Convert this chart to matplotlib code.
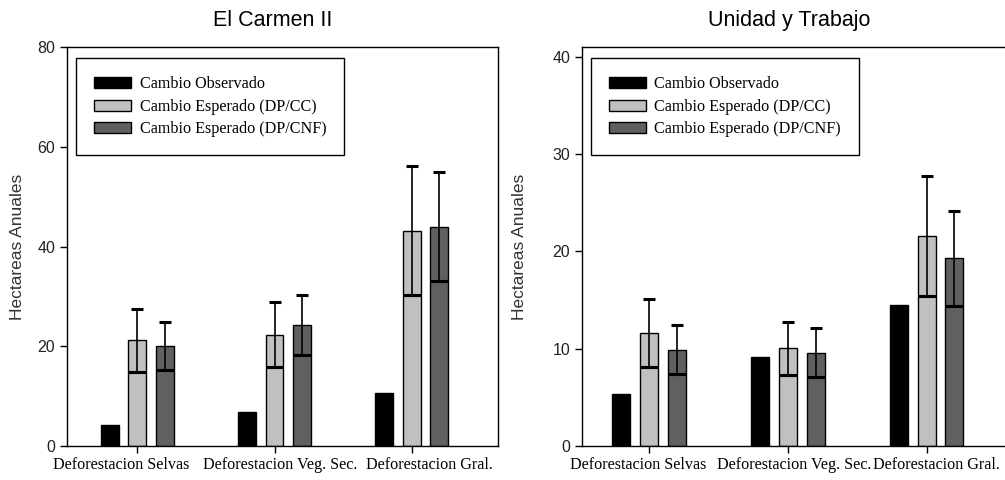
import matplotlib
matplotlib.use("Agg")
import matplotlib.pyplot as plt
import matplotlib.transforms as mtransforms
import numpy as np
from matplotlib.patches import Patch

categories = ["Deforestacion Selvas", "Deforestacion Veg. Sec.", "Deforestacion Gral."]
series_names = ["Cambio Observado", "Cambio Esperado (DP/CC)", "Cambio Esperado (DP/CNF)"]

# El Carmen II
carmen_obs = [4.3, 6.9, 10.7]
carmen_cc = [21.2, 22.3, 43.2]
carmen_cc_err = [6.3, 6.5, 13.0]
carmen_cnf = [20.1, 24.3, 44.0]
carmen_cnf_err = [4.8, 6.0, 11.0]

# Unidad y Trabajo
unidad_obs = [5.35, 9.2, 14.5]
unidad_cc = [11.6, 10.05, 21.6]
unidad_cc_err = [3.5, 2.7, 6.2]
unidad_cnf = [9.9, 9.6, 19.3]
unidad_cnf_err = [2.5, 2.5, 4.9]

colors = ["#000000", "#c0c0c0", "#606060"]
sans = ["Liberation Sans", "DejaVu Sans"]
serif = ["Liberation Serif", "DejaVu Serif"]

fig = plt.figure(figsize=(10.05, 4.8), dpi=100)

def draw(ax, title, obs, cc, cc_err, cnf, cnf_err, ylim, yticks, xlim, title_x,
         label_shift_px, ylabel_x):
    x = np.arange(len(categories))
    w = 0.13
    off = 0.2
    ax.bar(x - off, obs, w, color=colors[0], edgecolor="black", linewidth=1, zorder=2)
    for vals, errs, c, dx in [(cc, cc_err, colors[1], 0), (cnf, cnf_err, colors[2], off)]:
        vals = np.array(vals); errs = np.array(errs)
        ax.bar(x + dx, vals, w, color=c, edgecolor="black", linewidth=1, zorder=2)
        ax.errorbar(x + dx, vals, yerr=errs, fmt="none", ecolor="black",
                    elinewidth=1.2, capsize=4.5, capthick=2.2, zorder=3)
        ax.hlines(vals - errs, x + dx - w / 2, x + dx + w / 2, colors="black",
                  linewidth=2.2, zorder=3)
    ax.set_xlim(*xlim)
    ax.set_ylim(*ylim)
    ax.set_yticks(yticks)
    ax.set_yticklabels([str(t) for t in yticks], family=sans, fontsize=11.5, color="#222222")
    ax.set_xticks(x)
    ax.set_xticklabels([])
    blend = mtransforms.blended_transform_factory(ax.transData, ax.transAxes)
    for i, (cat, dpx) in enumerate(zip(categories, label_shift_px)):
        tr = blend + mtransforms.ScaledTranslation(dpx / 100, -11 / 100, fig.dpi_scale_trans)
        ax.text(i, 0, cat, transform=tr, ha="center", va="top",
                family=serif, fontsize=11.6, clip_on=False)
    ax.tick_params(axis="both", direction="out", length=5, width=1)
    for s in ax.spines.values():
        s.set_linewidth(1)
    ax.set_ylabel("Hectareas Anuales", family=sans, fontsize=12.5, color="#333333")
    ax.yaxis.set_label_coords(ylabel_x, 0.5)
    ax.set_title(title, family=sans, fontsize=15.5, x=title_x, pad=15)
    handles = [Patch(facecolor=c, edgecolor="black", linewidth=1) for c in colors]
    ax.legend(handles, series_names, loc="upper left", bbox_to_anchor=(0.02, 0.972),
              prop={"family": serif, "size": 11.6}, frameon=True, fancybox=False,
              edgecolor="black", framealpha=1, handlelength=2.3, handleheight=0.7,
              borderpad=1.12, labelspacing=0.4, handletextpad=0.55, borderaxespad=0)
    ax.get_legend().get_frame().set_linewidth(1)

ax1 = fig.add_axes([0.0667, 0.0708, 0.4289, 0.831])
draw(ax1, "El Carmen II", carmen_obs, carmen_cc, carmen_cc_err, carmen_cnf, carmen_cnf_err,
     (0, 80), [0, 20, 40, 60, 80], (-0.513, 2.63), 0.477, [-16, 6, 18], -0.0975)

ax2 = fig.add_axes([0.579, 0.0708, 0.43, 0.831])
draw(ax2, "Unidad y Trabajo", unidad_obs, unidad_cc, unidad_cc_err, unidad_cnf, unidad_cnf_err,
     (0, 41), [0, 10, 20, 30, 40], (-0.485, 2.63), 0.48, [-11, 6, 10], -0.127)

fig.savefig("out.png", dpi=100)
